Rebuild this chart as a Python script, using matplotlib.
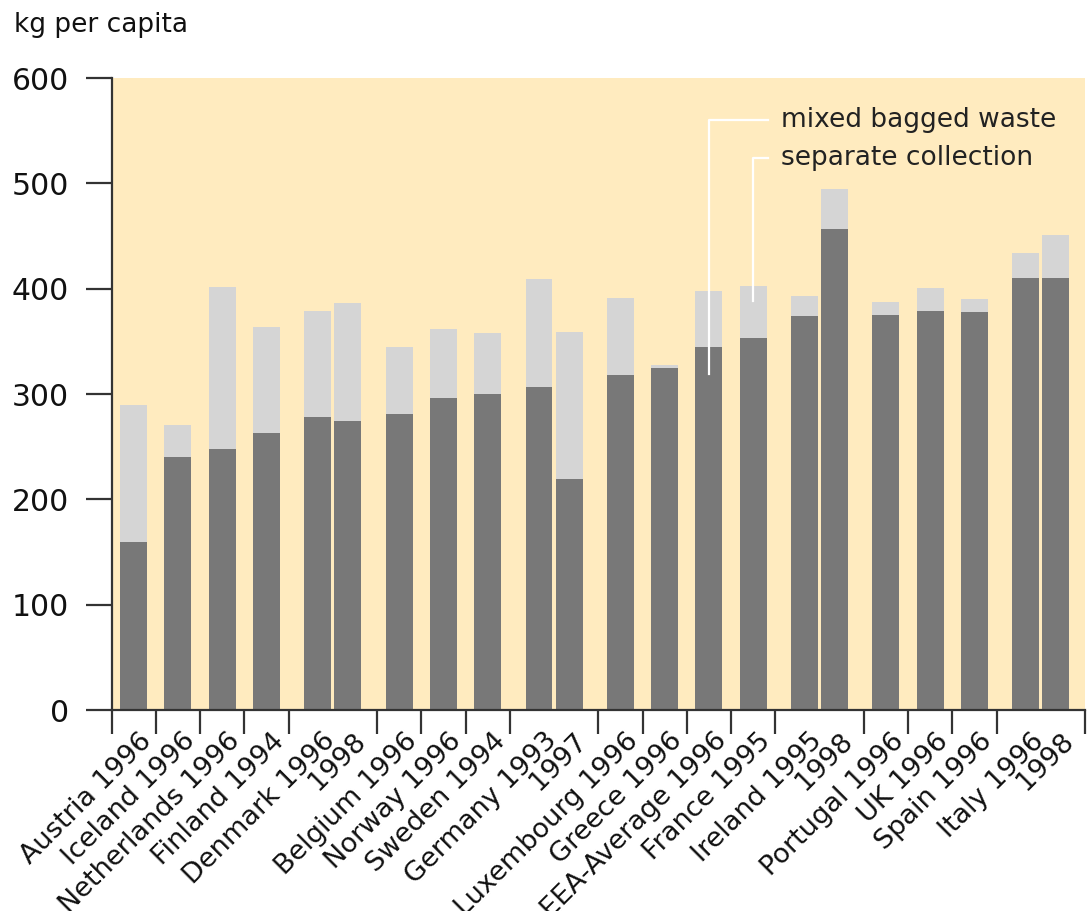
import numpy as np
import matplotlib
matplotlib.use("Agg")
import matplotlib.pyplot as plt
from matplotlib.transforms import offset_copy

# one label per bar, years only for the second bar of a country
labels = ["Austria 1996", "Iceland 1996", "Netherlands 1996", "Finland 1994",
          "Denmark 1996", "1998", "Belgium 1996", "Norway 1996", "Sweden 1994",
          "Germany 1993", "1997", "Luxembourg 1996", "Greece 1996",
          "EEA-Average 1996", "France 1995", "Ireland 1995", "1998",
          "Portugal 1996", "UK 1996", "Spain 1996", "Italy 1996", "1998"]
# number of bars per country group
group_sizes = [1, 1, 1, 1, 2, 1, 1, 1, 2, 1, 1, 1, 1, 2, 1, 1, 1, 2]
mixed = [160, 240, 248, 263, 278, 274, 281, 296, 300, 307, 219, 318, 325,
         345, 353, 374, 457, 375, 379, 378, 410, 410]
separate = [130, 31, 154, 101, 101, 112, 64, 66, 58, 102, 140, 73, 3,
            53, 50, 19, 38, 12, 22, 12, 24, 41]

bg = "#FFEBBF"
dark = "#787878"
light = "#D5D5D5"
axcol = "#333333"

plt.rcParams["font.family"] = ["DejaVu Sans"]

fig = plt.figure(figsize=(10.9, 9.11), dpi=100)
ax = fig.add_axes([0.1023, 0.2206, 0.8932, 0.6937])
ax.set_facecolor(bg)

# bar centres from the group layout
centers = []
bounds = [0]
pos = 0
for n in group_sizes:
    if n == 1:
        centers.append(pos + 0.5)
    else:
        mid = pos + n / 2
        centers.append(mid - 0.34)
        centers.append(mid + 0.34)
    pos += n
    bounds.append(pos)
centers = np.array(centers)

w = 0.61
ax.bar(centers, mixed, width=w, color=dark, zorder=2)
ax.bar(centers, separate, width=w, bottom=mixed, color=light, zorder=2)

ax.set_xlim(0, pos)
ax.set_ylim(0, 600)
ax.set_yticks(range(0, 601, 100))
ax.tick_params(axis="y", length=18.5, width=1.6, color=axcol, pad=12,
               labelsize=21.5, labelcolor="#111111")

ax.set_xticks(bounds, minor=True)
ax.set_xticks([])
ax.tick_params(axis="x", which="minor", length=17, width=1.6, color=axcol)

for s in ["top", "right"]:
    ax.spines[s].set_visible(False)
for s in ["left", "bottom"]:
    ax.spines[s].set_color(axcol)
    ax.spines[s].set_linewidth(1.6)

lab_tr = offset_copy(ax.get_xaxis_transform(), fig=fig, x=10, y=-19.5, units="points")
for c, t in zip(centers, labels):
    ax.text(c, 0, t, transform=lab_tr, rotation=45, rotation_mode="anchor",
            ha="right", va="center", fontsize=19.5, color="#111111")

# legend callouts
eea = centers[labels.index("EEA-Average 1996")]
fra = centers[labels.index("France 1995")]
xend = 14.84
ax.plot([eea, eea, xend], [319, 560, 560], color="white", lw=1.6, zorder=3)
ax.plot([fra, fra, xend], [388, 524, 524], color="white", lw=1.6, zorder=3)
ax.text(15.12, 560, "mixed bagged waste", fontsize=19, va="center", color="#222222")
ax.text(15.12, 524, "separate collection", fontsize=19, va="center", color="#222222")

fig.text(14 / 1090, 1 - 25 / 911, "kg per capita", fontsize=19, va="center",
         color="#111111")

fig.savefig("out.png", dpi=100)
